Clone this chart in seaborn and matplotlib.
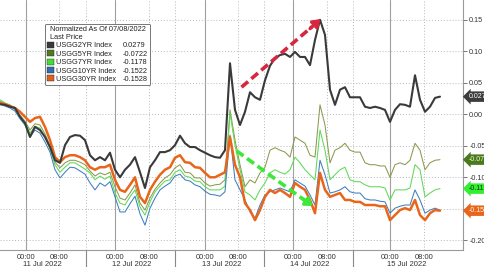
import numpy as np
import pandas as pd
import matplotlib
matplotlib.use("Agg")
import matplotlib.pyplot as plt
import matplotlib.transforms as mtransforms
from matplotlib.patches import Patch
import seaborn as sns

# ---------------- data (normalized yield change since 07/08/2022) ----------------
usgg2yr = [0.016, 0.015, 0.012, 0.010, -0.004, -0.014, -0.036, -0.020, -0.025, -0.036,
           -0.052, -0.073, -0.077, -0.049, -0.036, -0.033, -0.034, -0.041, -0.065, -0.073,
           -0.068, -0.073, -0.061, -0.088, -0.100, -0.088, -0.080, -0.068, -0.092, -0.117,
           -0.084, -0.073, -0.060, -0.060, -0.057, -0.049, -0.034, -0.046, -0.052, -0.052,
           -0.057, -0.061, -0.065, -0.068, -0.069, -0.057, 0.081, 0.007, -0.017, 0.004,
           0.035, 0.027, 0.023, 0.054, 0.077, 0.089, 0.094, 0.096, 0.091, 0.099,
           0.091, 0.091, 0.078, 0.118, 0.150, 0.126, 0.039, 0.015, 0.039, 0.043,
           0.027, 0.027, 0.027, 0.012, 0.010, 0.012, 0.010, 0.007, -0.012, 0.007,
           0.016, 0.015, 0.012, 0.062, 0.023, 0.004, 0.012, 0.026, 0.028]
usgg5yr = [0.021, 0.016, 0.013, 0.008, -0.001, -0.011, -0.025, -0.015, -0.017, -0.031,
           -0.050, -0.076, -0.085, -0.077, -0.073, -0.073, -0.076, -0.080, -0.090, -0.098,
           -0.093, -0.096, -0.092, -0.115, -0.133, -0.136, -0.125, -0.112, -0.141, -0.152,
           -0.133, -0.119, -0.109, -0.101, -0.096, -0.085, -0.080, -0.092, -0.093, -0.101,
           -0.101, -0.109, -0.114, -0.112, -0.111, -0.104, 0.007, -0.041, -0.080, -0.115,
           -0.104, -0.109, -0.093, -0.084, -0.057, -0.053, -0.057, -0.060, -0.068, -0.036,
           -0.041, -0.046, -0.065, -0.068, 0.015, -0.017, -0.077, -0.057, -0.053, -0.046,
           -0.057, -0.060, -0.060, -0.077, -0.080, -0.080, -0.082, -0.082, -0.100, -0.080,
           -0.077, -0.080, -0.073, -0.046, -0.057, -0.088, -0.077, -0.073, -0.072]
usgg7yr = [0.023, 0.018, 0.015, 0.008, -0.003, -0.012, -0.030, -0.019, -0.022, -0.036,
           -0.055, -0.080, -0.092, -0.084, -0.077, -0.077, -0.082, -0.087, -0.093, -0.104,
           -0.098, -0.103, -0.098, -0.125, -0.141, -0.144, -0.131, -0.120, -0.147, -0.160,
           -0.139, -0.123, -0.114, -0.106, -0.104, -0.092, -0.088, -0.098, -0.100, -0.106,
           -0.107, -0.115, -0.120, -0.120, -0.120, -0.114, 0.002, -0.049, -0.088, -0.123,
           -0.128, -0.136, -0.120, -0.109, -0.093, -0.088, -0.092, -0.095, -0.088, -0.068,
           -0.077, -0.088, -0.096, -0.104, -0.025, -0.057, -0.104, -0.096, -0.088, -0.084,
           -0.104, -0.107, -0.107, -0.112, -0.115, -0.115, -0.115, -0.117, -0.136, -0.120,
           -0.120, -0.120, -0.117, -0.080, -0.088, -0.131, -0.125, -0.120, -0.118]
usgg10yr = [0.016, 0.013, 0.010, 0.005, -0.007, -0.017, -0.036, -0.025, -0.030, -0.044,
            -0.060, -0.088, -0.101, -0.092, -0.084, -0.085, -0.090, -0.095, -0.109, -0.120,
            -0.109, -0.114, -0.107, -0.131, -0.155, -0.155, -0.142, -0.130, -0.158, -0.176,
            -0.149, -0.133, -0.120, -0.114, -0.109, -0.098, -0.095, -0.104, -0.106, -0.112,
            -0.115, -0.122, -0.127, -0.128, -0.130, -0.123, -0.033, -0.104, -0.120, -0.136,
            -0.155, -0.165, -0.144, -0.128, -0.123, -0.120, -0.117, -0.120, -0.123, -0.104,
            -0.109, -0.114, -0.128, -0.144, -0.073, -0.096, -0.125, -0.123, -0.120, -0.115,
            -0.123, -0.125, -0.125, -0.134, -0.136, -0.136, -0.138, -0.139, -0.157, -0.149,
            -0.146, -0.144, -0.144, -0.120, -0.136, -0.157, -0.152, -0.149, -0.152]
usgg30yr = [0.018, 0.016, 0.013, 0.010, 0.004, -0.004, -0.012, -0.006, -0.004, -0.020,
            -0.041, -0.068, -0.076, -0.068, -0.065, -0.065, -0.068, -0.073, -0.084, -0.088,
            -0.084, -0.084, -0.080, -0.104, -0.120, -0.123, -0.112, -0.100, -0.131, -0.141,
            -0.120, -0.107, -0.096, -0.088, -0.084, -0.069, -0.065, -0.076, -0.077, -0.084,
            -0.085, -0.093, -0.100, -0.100, -0.096, -0.092, -0.036, -0.080, -0.100, -0.141,
            -0.152, -0.168, -0.152, -0.131, -0.120, -0.125, -0.120, -0.125, -0.131, -0.109,
            -0.115, -0.120, -0.136, -0.157, -0.093, -0.120, -0.131, -0.128, -0.125, -0.136,
            -0.136, -0.139, -0.139, -0.144, -0.144, -0.144, -0.146, -0.146, -0.168, -0.160,
            -0.152, -0.149, -0.152, -0.136, -0.160, -0.168, -0.157, -0.152, -0.153]

series_names = ["USGG2YR Index", "USGG5YR Index", "USGG7YR Index",
                "USGG10YR Index", "USGG30YR Index"]
last_prices = ["0.0279", "-0.0722", "-0.1178", "-0.1522", "-0.1528"]
legend_title = "Normalized As Of 07/08/2022\nLast Price"

day_labels = ["11 Jul 2022", "12 Jul 2022", "13 Jul 2022", "14 Jul 2022", "15 Jul 2022"]
hour_labels = ["00:00", "08:00"]
y_ticks = [0.15, 0.10, 0.05, 0.00, -0.05, -0.10, -0.15, -0.20]

# sample index on the (session-compressed) time axis
t = np.arange(len(usgg2yr))
# positions (in sample index) of session marks
midnight_pos = [5.2, 23.0, 41.0, 58.6, 78.0]
eight_pos = [11.8, 29.8, 47.6, 65.4, 84.8]
session_break_pos = [17.2, 35.0, 52.8, 70.6]

# ---------------- styling ----------------
sns.set_style("white")
plt.rcParams["font.family"] = ["Liberation Sans", "DejaVu Sans"]
plt.rcParams["axes.unicode_minus"] = False

line_colors = ["#3a3a3a", "#8c9a4e", "#5fd957", "#3f7fbf", "#e8661c"]
line_widths = [1.5, 0.75, 0.75, 0.75, 1.8]
swatch_colors = ["#3a3a3a", "#4f7a22", "#44dd33", "#2f6fb0", "#e0601e"]
tag_bg = ["#3c3c3c", "#4a7a1e", "#33ee33", "#3f7fbf", "#e8661c"]
tag_fg = ["white", "#f4f4d0", "#0a3a0a", "white", "#fff2e6"]

fig = plt.figure(figsize=(4.85, 2.67), dpi=100)
ax = fig.add_axes([0, 1 - 250 / 267, 463 / 485, 250 / 267])

df = pd.DataFrame({"t": t, series_names[0]: usgg2yr, series_names[1]: usgg5yr,
                   series_names[2]: usgg7yr, series_names[3]: usgg10yr,
                   series_names[4]: usgg30yr})

draw_order = [1, 2, 3, 4, 0]
for i in draw_order:
    sns.lineplot(data=df, x="t", y=series_names[i], ax=ax, color=line_colors[i],
                 linewidth=line_widths[i], legend=False, zorder=3 + (i in (0, 4)))

ax.set_xlim(0, 92.6)
ax.set_ylim(-0.2154, 0.1814)
ax.set_xlabel("")
ax.set_ylabel("")

# grid
for y in y_ticks:
    ax.axhline(y, color="#b8b8b8", lw=0.7, ls=(0, (1, 2)), zorder=1)
for x in midnight_pos:
    ax.axvline(x, color="#a0a0a0", lw=0.8, zorder=1)
for x in eight_pos + session_break_pos:
    ax.axvline(x, color="#b8b8b8", lw=0.7, ls=(0, (1, 2)), zorder=1)

# spines
for s in ["top", "left"]:
    ax.spines[s].set_visible(False)
for s in ["right", "bottom"]:
    ax.spines[s].set_color("#9a9a9a")
    ax.spines[s].set_linewidth(0.8)

# y axis on the right
ax.yaxis.tick_right()
ax.set_yticks(y_ticks)
ax.set_yticklabels([f"{v:.2f}" for v in y_ticks])
ax.tick_params(axis="y", which="major", length=3, width=0.7, color="#777777",
               pad=1.5, labelsize=5.2, labelcolor="#333333", left=False, right=True)

# x axis
xt = []
xl = []
for z, e in zip(midnight_pos, eight_pos):
    xt += [z, e]
    xl += hour_labels
ax.set_xticks(xt)
ax.set_xticklabels(xl)
minor = []
for z, e in zip(midnight_pos, eight_pos):
    d = (e - z) / 2
    minor += [z - d, z + d, e + d]
ax.set_xticks(minor, minor=True)
ax.tick_params(axis="x", which="major", length=2, width=0.7, color="#777777",
               pad=0.8, labelsize=5.5, labelcolor="#333333")
ax.tick_params(axis="x", which="minor", length=1.5, width=0.6, color="#777777")

trans = mtransforms.blended_transform_factory(ax.transData, ax.transAxes)
for z, e, lab in zip(midnight_pos, eight_pos, day_labels):
    ax.text((z + e) / 2, -0.056, lab, transform=trans, ha="center", va="center",
            fontsize=5.5, color="#333333", clip_on=False)
for x in session_break_pos:
    ax.plot([x, x], [0, -0.08], transform=trans, color="#888888", lw=0.8,
            clip_on=False)

# last-value tags on the right (10YR tag sits hidden under the 30YR tag)
tag_order = [4, 1, 2, 0]
ytrans = mtransforms.blended_transform_factory(ax.transAxes, ax.transData)
last_vals = [usgg2yr[-1], usgg5yr[-1], usgg7yr[-1], usgg10yr[-1], usgg30yr[-1]]
for i in tag_order:
    ax.text(1.012, last_vals[i], last_prices[i], transform=ytrans, ha="left",
            va="center", fontsize=5.0, color=tag_fg[i], clip_on=False, zorder=10,
            bbox=dict(boxstyle="larrow,pad=0.25", fc=tag_bg[i], ec="none"))

# legend
handles = [Patch(facecolor=c, edgecolor="#222222", linewidth=0.3) for c in swatch_colors]
blank = [Patch(facecolor="none", edgecolor="none") for _ in swatch_colors]
leg = ax.legend(handles + blank, series_names + last_prices, ncol=2,
                title=legend_title, loc="upper left",
                bbox_to_anchor=(0.097, 0.906), fontsize=5.3, title_fontsize=5.3,
                frameon=True, fancybox=True, edgecolor="#777777", framealpha=1,
                borderpad=0.35, handlelength=0.85, handleheight=0.85,
                handletextpad=0.3, columnspacing=-0.3, labelspacing=0.12,
                borderaxespad=0)
leg.get_frame().set_linewidth(0.7)
for txt in leg.get_texts():
    txt.set_color("#222222")
leg.get_title().set_color("#222222")
leg.set_zorder(20)

# annotation arrows
red = "#d8263e"
green = "#3ee83a"
ax.plot([48.3, 62.4], [0.043, 0.139], color=red, lw=2.6, ls=(0, (2.4, 1.2)),
        solid_capstyle="butt", dash_capstyle="butt", zorder=8)
ax.annotate("", xy=(64.5, 0.154), xytext=(61.6, 0.133),
            arrowprops=dict(arrowstyle="-|>,head_length=0.5,head_width=0.35",
                            color=red, lw=2.4, mutation_scale=8), zorder=8)
ax.plot([47.3, 61.0], [-0.058, -0.137], color=green, lw=2.6, ls=(0, (2.4, 1.2)),
        solid_capstyle="butt", dash_capstyle="butt", zorder=8)
ax.annotate("", xy=(63.0, -0.148), xytext=(60.2, -0.132),
            arrowprops=dict(arrowstyle="-|>,head_length=0.5,head_width=0.35",
                            color=green, lw=2.4, mutation_scale=8), zorder=8)

fig.savefig("out.png", dpi=100, facecolor="white")
